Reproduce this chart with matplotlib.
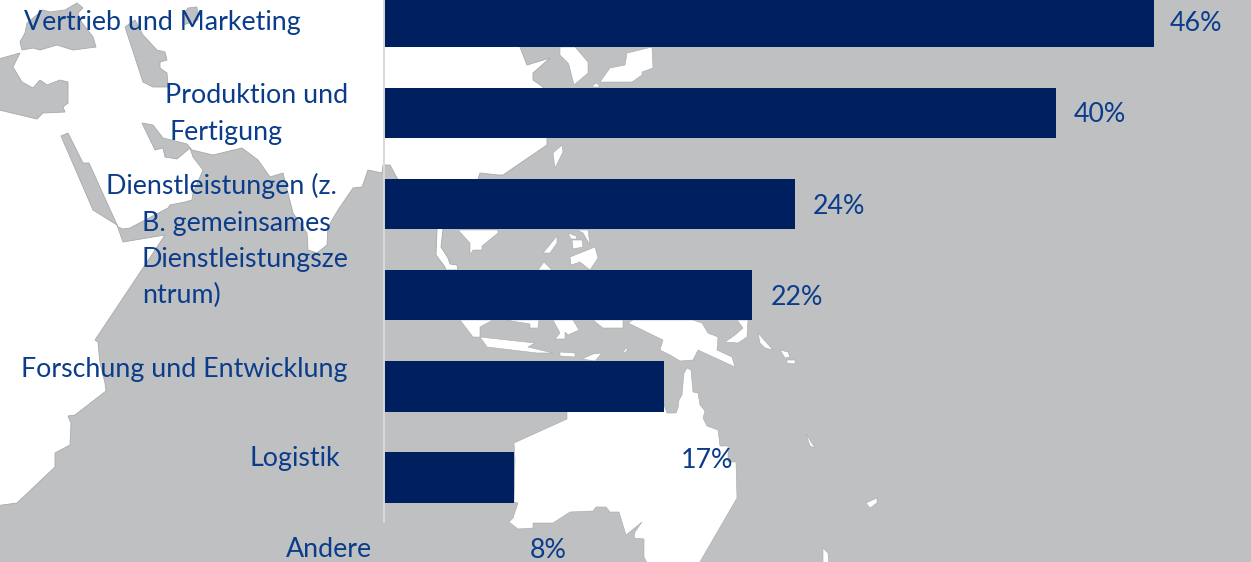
import matplotlib
matplotlib.use("Agg")
import matplotlib.pyplot as plt
from matplotlib.patches import Polygon

categories = ["Vertrieb und Marketing", "Produktion und\nFertigung",
              "Dienstleistungen (z.\nB. gemeinsames\nDienstleistungsze\nntrum)",
              "Forschung und Entwicklung", "Logistik", "Andere"]
values = [46.0, 40.15, 24.55, 22.0, 16.7, 7.75]
value_labels = ["46%", "40%", "24%", "22%", "17%", "8%"]

NAVY = "#001F5F"
TEXT = "#0A3C8A"
GREY = "#BFC0C2"
EDGE = "#A8A9AB"

# category line anchors (left x, baseline y) in pixels
cat_pos = [[(24, 30)], [(165, 103), (170, 140)],
           [(106, 194), (142, 231), (142, 267), (142, 303)],
           [(21, 377)], [(249, 466)], [(286, 557)]]
val_pos = [(1170, 31), (1074, 122), (813, 214), (771, 305), (681, 468), (530, 558)]

# decorative map background, in pixels
ocean = [(-5,-5),(600,-5),(520,47),(527,65),(550,58),(533,73),(533,80),(543,87),(547,138),(547,145),
         (503,175),(498,175),(480,173),(478,179),(443,229),(441,247),(448,258),(450,264),(457,265),
         (458,270),(446,270),(445,267),(436,255),(437,229),(397,178),(390,165),(383,165),(382,173),
         (368,170),(362,187),(353,188),(338,210),(328,227),(327,245),(317,253),(308,250),(307,233),
         (293,213),(283,173),(270,177),(258,160),(242,148),(213,155),(192,150),(187,144),(163,138),
         (153,125),(142,123),(155,150),(163,148),(165,157),(177,159),(190,148),(193,157),(203,170),
         (193,193),(192,200),(185,202),(170,205),(168,208),(130,228),(123,229),(118,227),(89,163),
         (83,163),(68,133),(61,136),(93,210),(117,225),(123,242),(165,235),(135,280),(95,340),(98,342),
         (100,363),(105,383),(106,391),(75,415),(68,416),(71,423),(70,445),(55,453),(55,467),(17,503),(-5,506)]
land = [
    [(20,42),(25,33),(27,23),(43,10),(50,12),(65,10),(77,3),(83,8),(78,13),(80,20),(93,37),(96,47),(73,50),(57,45),(40,50),(33,48),(22,50)],
    [(125,27),(135,20),(143,35),(157,50),(165,52),(167,60),(160,62),(160,68),(167,73),(168,87),(153,87),(143,82)],
    [(183,15),(188,8),(197,7),(198,20),(183,25)],
    [(-5,60),(20,53),(13,67),(22,82),(33,88),(40,80),(47,85),(60,80),(68,82),(68,103),(63,107),(65,112),(43,113),(37,119),(-5,109)],
]
islands = [
    [(560,47),(560,55),(568,63),(569,65),(574,85),(588,73),(588,62),(575,47)],
    [(627,53),(652,47),(653,68),(642,72),(642,75),(632,82),(600,82),(610,68),(625,65)],
    [(593,85),(597,83),(600,87),(593,87)],
    [(553,153),(562,145),(563,152),(555,168)],
    [(458,230),(470,243),(470,255),(473,250),(482,250),(482,246),(498,233),(498,230)],
    [(557,236),(543,253),(550,253),(557,243)],
    [(568,233),(576,236),(577,239),(571,239)],
    [(572,240),(582,240),(583,247),(573,249)],
    [(577,230),(588,230),(590,245),(583,233)],
    [(570,257),(595,247),(598,258),(590,270),(580,262),(571,265)],
    [(544,262),(552,270),(538,270)],
    [(460,320),(473,337),(480,337),(480,327),(493,320)],
    [(505,320),(530,324),(530,328),(538,328),(539,320)],
    [(553,320),(560,333),(555,339),(565,339),(565,332),(568,335),(579,330),(573,320)],
    [(593,320),(603,328),(623,328),(623,320)],
    [(628,323),(663,340),(660,350),(670,355),(680,361),(693,360),(698,350),(735,367),(732,357),
     (717,350),(718,337),(708,333),(702,323),(693,320),(633,320)],
    [(737,320),(743,328),(735,335),(725,342),(738,343),(747,337),(748,320)],
    [(758,333),(773,350),(765,348),(760,343)],
    [(780,350),(788,352),(790,357),(785,358)],
    [(787,360),(795,360),(795,364),(787,363)],
    [(480,337),(535,343),(528,347),(553,353),(537,353),(487,347)],
    [(560,352),(575,353),(575,357),(560,356)],
    [(582,359),(593,354),(602,353),(595,361)],
    [(623,352),(627,347),(627,351),(624,353)],
    [(567,405),(567,419),(514,443),(515,460),(514,502),(518,503),(513,518),(509,522),(518,529),(533,528),
     (533,523),(553,523),(570,512),(593,511),(596,507),(606,507),(610,512),(619,512),(626,535),(642,522),
     (635,532),(634,538),(644,539),(644,557),(649,567),(697,567),(737,498),(736,462),(728,462),(728,446),
     (720,446),(718,430),(707,426),(703,418),(705,411),(700,405),(698,393),(693,392),(691,370),(687,368),
     (684,373),(682,395),(679,400),(678,408),(676,413),(667,413),(664,405)],
    [(806,434),(815,448),(810,446)],
    [(866,503),(877,498),(877,503),(870,508)],
    [(823,548),(828,553),(829,567),(823,567)],
]

W, H = 1251, 562
fig = plt.figure(figsize=(W / 100, H / 100), dpi=100, facecolor=GREY)

bg = fig.add_axes([0, 0, 1, 1], zorder=0)
bg.set_xlim(0, W); bg.set_ylim(H, 0); bg.axis("off")
bg.add_patch(Polygon(ocean, fc="white", ec=EDGE, lw=0.6))
for p in land:
    bg.add_patch(Polygon(p, fc=GREY, ec=EDGE, lw=0.6))
for p in islands:
    bg.add_patch(Polygon(p, fc="white", ec=EDGE, lw=0.4))

x0, y_bottom = 384, 522
ax = fig.add_axes([x0 / W, (H - y_bottom) / H, (W - x0) / W, y_bottom / H], zorder=1)
ax.patch.set_alpha(0)
px_per_unit = 16.74
ax.set_xlim(0, (W - x0) / px_per_unit)
step, first = 91.2, 21.6
ax.set_ylim((y_bottom - first) / step, -first / step)
ax.barh(range(len(values)), values, height=0.554, color=NAVY)
for s in ("top", "right", "bottom"):
    ax.spines[s].set_visible(False)
ax.spines["left"].set_color("#D9D9D9")
ax.spines["left"].set_linewidth(1.4)
ax.set_xticks([]); ax.set_yticks([])

font = dict(family="Lato", fontsize=19.3, color=TEXT, va="baseline", ha="left", zorder=5)
for cat, positions in zip(categories, cat_pos):
    for line, (x, y) in zip(cat.split("\n"), positions):
        fig.text(x / W, 1 - y / H, line, **font)
for label, (x, y) in zip(value_labels, val_pos):
    fig.text(x / W, 1 - y / H, label, **font)

fig.savefig("out.png", dpi=100, facecolor=fig.get_facecolor())
